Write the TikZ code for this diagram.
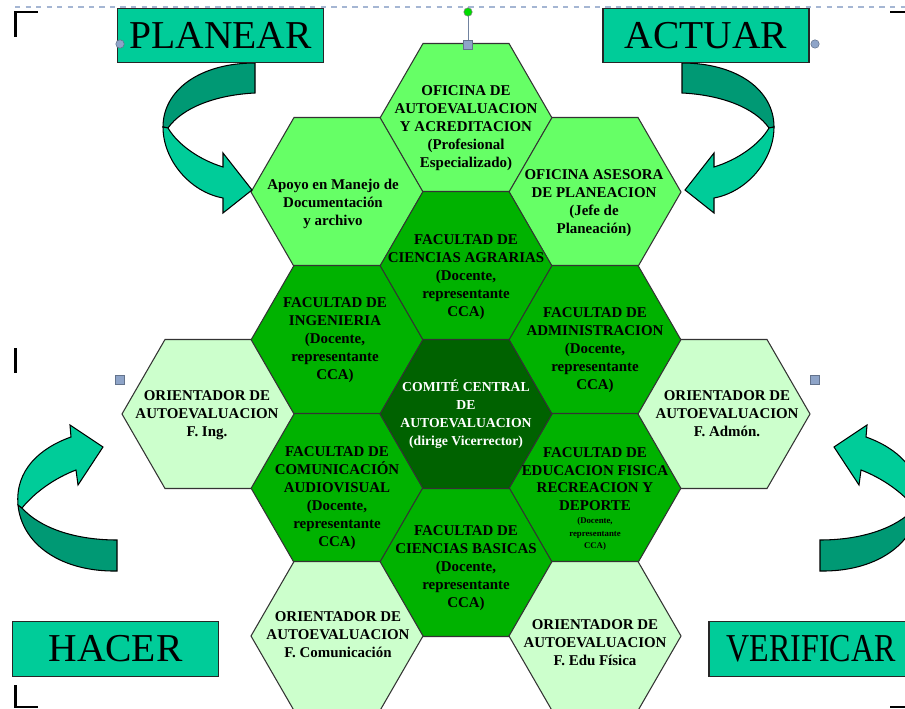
\documentclass[tikz,border=0pt]{standalone}
\usepackage{fontspec}
\setmainfont{Liberation Serif}
\newfontfamily\hexfont{Liberation Serif}
\definecolor{hexlightc}{HTML}{66FF66}
\definecolor{hexfacc}{HTML}{00B200}
\definecolor{hexcenc}{HTML}{006200}
\definecolor{hexorc}{HTML}{CCFFCC}
\definecolor{tealc}{HTML}{00CC99}
\definecolor{tealdc}{HTML}{009974}
\definecolor{handlec}{HTML}{8EA4C8}
\newcommand\hexcell[3]{\path[#3, shift={(#1,#2)}] (-86,0) -- (-43,-74.5) -- (43,-74.5) -- (86,0) -- (43,74.5) -- (-43,74.5) -- cycle;}
\newcommand\smtxt{\fontsize{5}{6}\selectfont}
\newcommand\arrowTL{%
  \path[arrdark] (255,63) -- (255,93) .. controls (215,95) and (182,108) .. (168,128) -- (163,127) .. controls (163,90) and (200,63) .. (255,63) -- cycle;
  \path[arrlight] (163,127) .. controls (163,160) and (190,192) .. (223,198) -- (223,213) -- (252,190) -- (223,153) -- (223,167) .. controls (200,160) and (178,145) .. (168,128) -- cycle;}
\newcommand\arrowBL{%
  \path[arrdark] (117,540) -- (117,571) .. controls (62,572) and (22,545) .. (18,505) -- (22,508) .. controls (40,528) and (75,540) .. (117,540) -- cycle;
  \path[arrlight] (18,505) .. controls (15,470) and (40,448) .. (71,437) -- (70,425) -- (103,447) -- (78,485) -- (76,470) .. controls (55,478) and (35,492) .. (22,508) -- cycle;}
\begin{document}
\begin{tikzpicture}[x=0.02cm, y=-0.02cm,
  hexA/.style={fill=hexlightc, draw=black!80, line width=0.6pt},
  hexB/.style={fill=hexfacc, draw=black!80, line width=0.6pt},
  hexC/.style={fill=hexcenc, draw=black!80, line width=0.6pt},
  hexD/.style={fill=hexorc, draw=black!80, line width=0.6pt},
  hextext/.style={align=center, inner sep=0pt, font=\hexfont\bfseries\fontsize{8.5}{10.2}\selectfont},
  lblbox/.style={fill=tealc, draw=black!85, line width=0.8pt, minimum width=4.12cm, minimum height=1.09cm, inner sep=0pt, font=\fontsize{22.5}{24}\selectfont},
  arrdark/.style={fill=tealdc, draw=black, line width=0.6pt},
  arrlight/.style={fill=tealc, draw=black, line width=0.6pt},
  cornermark/.style={draw=black, line width=1.6pt},
  handle/.style={fill=handlec, draw=handlec!70!black, line width=0.3pt}]
\useasboundingbox (0,0) rectangle (905,709);
\clip (0,0) rectangle (905,709);
\fill[white] (0,0) rectangle (905,709);

% hexagons
\hexcell{466}{118}{hexA}
\hexcell{337}{192}{hexA}
\hexcell{595}{192}{hexA}
\hexcell{466}{266}{hexB}
\hexcell{337}{340}{hexB}
\hexcell{595}{340}{hexB}
\hexcell{337}{488}{hexB}
\hexcell{595}{488}{hexB}
\hexcell{466}{562}{hexB}
\hexcell{466}{414}{hexC}
\hexcell{208}{414}{hexD}
\hexcell{724}{414}{hexD}
\hexcell{337}{636}{hexD}
\hexcell{595}{636}{hexD}

% hexagon texts
\node[hextext] (ofauto) at (466,128) {OFICINA DE\\AUTOEVALUACION\\Y ACREDITACION\\(Profesional\\Especializado)};
\node[hextext] (apoyo) at (333,204) {Apoyo en Manejo de\\Documentación\\y archivo};
\node[hextext] (asesora) at (594,203) {OFICINA ASESORA\\DE PLANEACION\\(Jefe de\\Planeación)};
\node[hextext] (agrarias) at (466,277) {FACULTAD DE\\CIENCIAS AGRARIAS\\(Docente,\\representante\\CCA)};
\node[hextext] (ingen) at (335,340) {FACULTAD DE\\INGENIERIA\\(Docente,\\representante\\CCA)};
\node[hextext] (admin) at (595,350) {FACULTAD DE\\ADMINISTRACION\\(Docente,\\representante\\CCA)};
\node[hextext, text=white, font=\hexfont\bfseries\fontsize{7.8}{10.2}\selectfont] (comite) at (466,414) {COMITÉ CENTRAL\\DE\\AUTOEVALUACION\\(dirige Vicerrector)};
\node[hextext] (comunic) at (337,498) {FACULTAD DE\\COMUNICACIÓN\\AUDIOVISUAL\\(Docente,\\representante\\CCA)};
\node[hextext] (edufis) at (595,499) {FACULTAD DE\\EDUCACION FISICA\\RECREACION Y\\DEPORTE\\[-3pt]\smtxt (Docente,\\[-3pt]\smtxt representante\\[-3pt]\smtxt CCA)};
\node[hextext] (basicas) at (466,568) {FACULTAD DE\\CIENCIAS BASICAS\\(Docente,\\representante\\CCA)};
\node[hextext] (oring) at (207,415) {ORIENTADOR DE\\AUTOEVALUACION\\F. Ing.};
\node[hextext] (oradm) at (727,414) {ORIENTADOR DE\\AUTOEVALUACION\\F. Admón.};
\node[hextext] (orcom) at (338,635) {ORIENTADOR DE\\AUTOEVALUACION\\F. Comunicación};
\node[hextext] (oredu) at (595,643) {ORIENTADOR DE\\AUTOEVALUACION\\F. Edu Física};

% curved arrows
\arrowTL
\begin{scope}[shift={(937,0)}, xscale=-1]\arrowTL\end{scope}
\arrowBL
\begin{scope}[shift={(937,0)}, xscale=-1]\arrowBL\end{scope}

% label boxes
\node[lblbox] (planear) at (220.5,35.5) {PLANEAR};
\node[lblbox] (actuar) at (706,35.5) {ACTUAR};
\node[lblbox] (hacer) at (115.5,649) {HACER};
\node[lblbox] (verificar) at (812,649) {};
\node[font=\fontsize{22.5}{24}\selectfont, inner sep=0pt] (veriftext) at (811,649) {\scalebox{0.81}[1]{VERIFICAR}};

% selection marks
\draw[dashed, draw=handlec!80, line width=0.6pt] (15,7) -- (905,7);
\draw[cornermark] (15.5,37) -- (15.5,12) -- (38,12);
\draw[cornermark] (890,12) -- (905,12);
\draw[cornermark] (15.5,348) -- (15.5,373);
\draw[cornermark] (15.5,685) -- (15.5,707) -- (38,707);
\draw[cornermark] (890,707) -- (905,707);
\draw[handlec!80!black, line width=0.5pt] (468,12) -- (468,45);
\fill[handle] (120,44) circle[radius=2.4pt];
\fill[handle] (815,44) circle[radius=2.4pt];
\filldraw[fill=green!80!black!70!green, draw=gray, line width=0.3pt] (468,12) circle[radius=2.4pt];
\filldraw[handle] (463.5,40.5) rectangle (472.5,49.5);
\filldraw[handle] (115.5,375.5) rectangle (124.5,384.5);
\filldraw[handle] (810.5,375.5) rectangle (819.5,384.5);
\end{tikzpicture}
\end{document}
